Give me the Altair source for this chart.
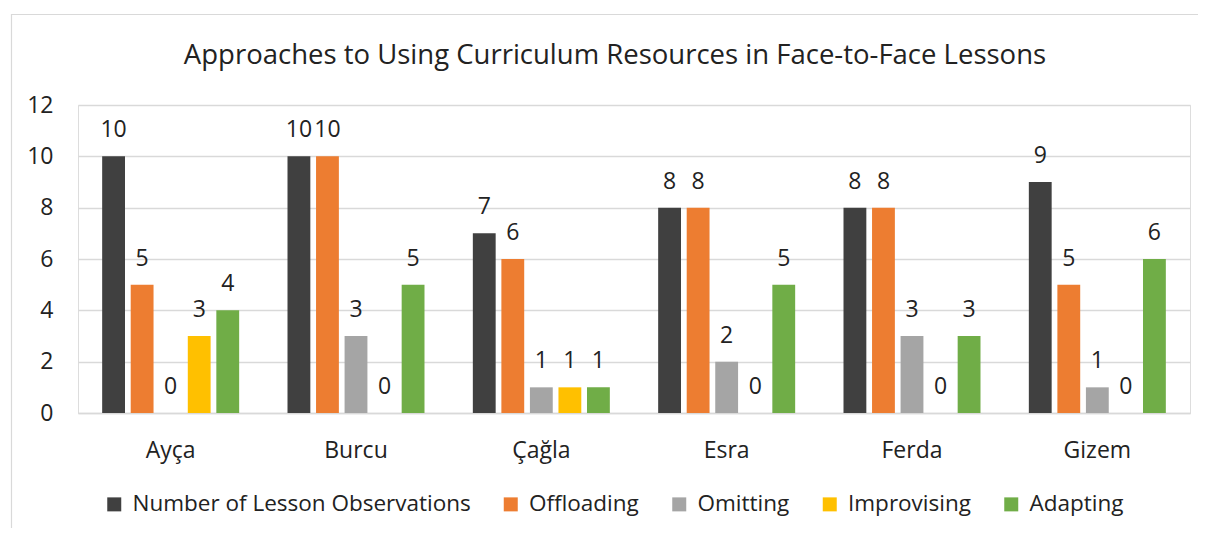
import altair as alt
import pandas as pd

teachers = ["Ayça", "Burcu", "Çağla", "Esra", "Ferda", "Gizem"]
series = ["Number of Lesson Observations", "Offloading", "Omitting", "Improvising", "Adapting"]
colors = ["#404040", "#ED7D31", "#A5A5A5", "#FFC000", "#70AD47"]

observations = [10, 10, 7, 8, 8, 9]
offloading = [5, 10, 6, 8, 8, 5]
omitting = [0, 3, 1, 2, 3, 1]
improvising = [3, 0, 1, 0, 0, 0]
adapting = [4, 5, 1, 5, 3, 6]
y_ticks = [0, 2, 4, 6, 8, 10, 12]

rows = []
for s, vals in zip(series, [observations, offloading, omitting, improvising, adapting]):
    for t, v in zip(teachers, vals):
        rows.append({"Teacher": t, "Series": s, "Value": v})
df = pd.DataFrame(rows)

FONT = "Open Sans"
TXT = "#222222"
GRID = "#d9d9d9"

x_enc = alt.X(
    "Teacher:N", sort=teachers,
    scale=alt.Scale(paddingInner=0.23, paddingOuter=0.115),
    axis=alt.Axis(title=None, labelAngle=0, ticks=False, domainColor=GRID, domainWidth=1.3,
                  labelPadding=26, labelFontSize=23, labelColor=TXT, labelFont=FONT),
)
xo_enc = alt.XOffset("Series:N", sort=series, scale=alt.Scale(paddingInner=0.2, paddingOuter=0.1))
y_enc = alt.Y(
    "Value:Q", scale=alt.Scale(domain=[0, 12]),
    axis=alt.Axis(title=None, values=y_ticks, ticks=False, domain=False, gridColor=GRID, gridWidth=1.3,
                  labelPadding=25, labelFontSize=23, labelColor=TXT, labelFont=FONT),
)

frame = alt.Chart(pd.DataFrame({"k": [0]})).mark_rect(
    fillOpacity=0, stroke=GRID, strokeWidth=1.2
).encode(x=alt.value(-66.5), y=alt.value(-90.5), x2=alt.value(1160), y2=alt.value(470))

bars = alt.Chart(df).mark_bar().encode(
    x=x_enc, xOffset=xo_enc, y=y_enc,
    color=alt.Color("Series:N", sort=series, scale=alt.Scale(domain=series, range=colors),
                    legend=alt.Legend(title=None, orient="none", legendX=25, legendY=388,
                                      direction="horizontal", symbolType="square", symbolSize=196,
                                      symbolStrokeWidth=0, labelFontSize=22.5, labelFont=FONT,
                                      labelColor=TXT, columnPadding=28.5, labelOffset=7,
                                      labelLimit=600)),
)

labels = alt.Chart(df).mark_text(
    baseline="alphabetic", dy=-19, fontSize=23, font=FONT, color=TXT
).encode(x=x_enc, xOffset=xo_enc, y=y_enc, text="Value:Q")

chart = alt.layer(frame, bars, labels).properties(
    width=1112, height=308,
    title=alt.TitleParams("Approaches to Using Curriculum Resources in Face-to-Face Lessons",
                          fontSize=27.5, font=FONT, fontWeight="normal", color=TXT,
                          anchor="middle", frame="group", dx=-19, offset=-56),
    autosize=alt.AutoSizeParams(type="none"),
    padding={"left": 70, "top": 97, "right": 8, "bottom": 115},
).configure_view(stroke=None).configure(background="white")

chart.save("out.html", embed_options={"renderer": "svg", "actions": False})
